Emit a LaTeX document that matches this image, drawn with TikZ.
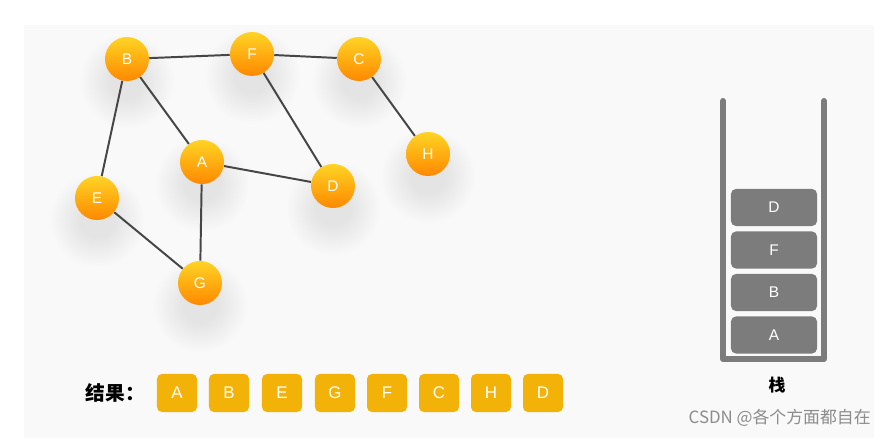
\documentclass[tikz,border=0pt]{standalone}
\usepackage{fontspec}
\setmainfont{Liberation Sans}
\newfontfamily\cjk{Noto Sans CJK SC}
\usetikzlibrary{backgrounds}

\definecolor{panelgray}{RGB}{249,249,249}
\definecolor{halogray}{RGB}{228,228,228}
\definecolor{nodetop}{RGB}{255,212,36}
\definecolor{nodebottom}{RGB}{255,136,0}
\definecolor{resultfill}{RGB}{242,178,8}
\definecolor{stackgray}{RGB}{124,124,124}
\definecolor{linkgray}{RGB}{70,70,70}
\definecolor{markgray}{RGB}{140,140,140}

\pgfdeclareradialshading{haloshade}{\pgfpoint{0bp}{0bp}}{%
	color(0bp)=(halogray); color(9bp)=(halogray);
	color(25bp)=(panelgray); color(50bp)=(panelgray)}

\tikzset{
	vertex/.style={circle, minimum size=1.1cm, inner sep=0pt,
		top color=nodetop, bottom color=nodebottom, text=white,
		font=\fontsize{11}{13}\selectfont},
	halo/.style={shading=haloshade},
	link/.style={linkgray, line width=1.4pt},
	resbox/.style={rounded corners=3.5pt, fill=resultfill, text=white,
		minimum width=1cm, minimum height=0.95cm, inner sep=0pt,
		font=\fontsize{12}{14}\selectfont},
	stackbox/.style={rounded corners=3.5pt, fill=stackgray, text=white,
		minimum width=2.15cm, minimum height=0.925cm, inner sep=0pt,
		font=\fontsize{11}{13}\selectfont},
}

\begin{document}
\begin{tikzpicture}[x=0.025cm, y=-0.025cm]
	
	\useasboundingbox (0,0) rectangle (887,438);
	
	% graph
	\node[vertex] (nB) at (127,59) {B};
	\node[vertex] (nF) at (252,54) {F};
	\node[vertex] (nC) at (359,59) {C};
	\node[vertex] (nH) at (428,154) {H};
	\node[vertex] (nA) at (202,162) {A};
	\node[vertex] (nD) at (333,186) {D};
	\node[vertex] (nE) at (97,198) {E};
	\node[vertex] (nG) at (200,283) {G};
	
	\begin{pgfonlayer}{background}
	\fill[panelgray] (24,25) rectangle (874,438);
	\foreach \n in {nB,nF,nC,nH,nA,nD,nE,nG}
		\shade[halo] ([yshift=-0.55cm]\n.center) circle (1.2cm);
	\draw[link] (nB) -- (nF);
	\draw[link] (nF) -- (nC);
	\draw[link] (nC) -- (nH);
	\draw[link] (nB) -- (nA);
	\draw[link] (nB) -- (nE);
	\draw[link] (nF) -- (nD);
	\draw[link] (nA) -- (nD);
	\draw[link] (nA) -- (nG);
	\draw[link] (nE) -- (nG);
	\end{pgfonlayer}
	
	% result
	\node[anchor=west, font=\cjk\bfseries\fontsize{14}{16}\selectfont] (result) at (81,393) {结果：};
	\node[resbox] (r1) at (177,393) {A};
	\node[resbox] (r2) at (229,393) {B};
	\node[resbox] (r3) at (282,393) {E};
	\node[resbox] (r4) at (335,393) {G};
	\node[resbox] (r5) at (387,393) {F};
	\node[resbox] (r6) at (439,393) {C};
	\node[resbox] (r7) at (491,393) {H};
	\node[resbox] (r8) at (543,393) {D};
	
	% stack
	\draw[stackgray, line width=4.3pt, line cap=round, line join=round]
		(723,101) -- (723,359) -- (824,359) -- (824,101);
	\node[stackbox] (sD) at (774,207.5) {D};
	\node[stackbox] (sF) at (774,250) {F};
	\node[stackbox] (sB) at (774,292.5) {B};
	\node[stackbox] (sA) at (774,335) {A};
	\node[font=\cjk\bfseries\fontsize{12}{14}\selectfont] (stacklabel) at (777,385) {栈};
	
	\node[anchor=east, text=markgray, font=\cjk\fontsize{12}{14}\selectfont, inner sep=0pt] (mark) at (871,418) {CSDN @各个方面都自在};
	
\end{tikzpicture}
\end{document}
